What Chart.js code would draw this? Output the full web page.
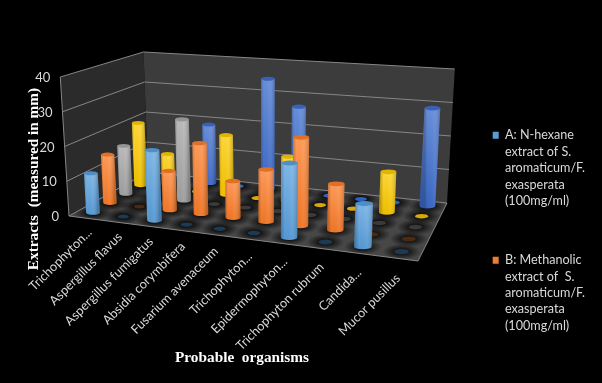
<!DOCTYPE html>
<html>
<head>
<meta charset="utf-8">
<script src="https://cdn.jsdelivr.net/npm/chart.js@4"></script>
<style>
  html, body { margin: 0; padding: 0; background: #000; }
  canvas { display: block; }
</style>
</head>
<body>
<canvas id="chart" width="602" height="383"></canvas>
<script>
var categories = ["Trichophyton...", "Aspergillus flavus", "Aspergillus fumigatus", "Absidia corymbifera", "Fusarium avenaceum", "Trichophyton...", "Epidermophyton...", "Trichophyton rubrum", "Candida...", "Mucor pusillus"];
var seriesNames = ["A", "B", "C", "D", "E"];
var seriesA = [11.5, 0, 20, 0, 0, 0, 20.2, 0, 11.5, 0];
var seriesB = [14.5, 0, 11.5, 20.5, 10.5, 14.8, 24.8, 12.8, 0, 0];
var seriesC = [14.8, 0, 24.5, 0, 0, 0, 0, 0, 0, 0];
var seriesD = [19.8, 10.8, 0, 18.3, 0, 13.5, 0, 0, 11.8, 0];
var seriesE = [0, 0, 18.7, 0, 34.5, 26.5, 0, 0, 0, 29];
var yMax = 40;
var yStep = 10;
var legendA = ["A: N-hexane", "extract of S.", "aromaticum/F.", "exasperata", "(100mg/ml)"];
var legendB = ["B: Methanolic", "extract of  S.", "aromaticum/F.", "exasperata", "(100mg/ml)"];

var colors = ["#5ba3e0", "#ff7f2a", "#a8a8a8", "#ffcc00", "#3f6fd0"];
var zeroColors = ["#1d3a55", "#4a2a12", "#3a3a3a", "#d6a80c", "#2c62c6"];
var legendColors = ["#5b9bd5", "#ed7d31"];

// box corners of the 3d plot, in canvas pixels
var floorQuad = [[69, 216], [418, 261], [447, 203], [148, 172]];
var topQuad = [[60, 77], [427, 106], [456, 69], [143, 52]];
// verticals spread out from this x as they go up
var vanishX = 265;
var lean = 0.00032;

function homography(q) {
  var dx1 = q[1][0] - q[2][0], dx2 = q[3][0] - q[2][0], sx = q[0][0] - q[1][0] + q[2][0] - q[3][0];
  var dy1 = q[1][1] - q[2][1], dy2 = q[3][1] - q[2][1], sy = q[0][1] - q[1][1] + q[2][1] - q[3][1];
  var det = dx1 * dy2 - dx2 * dy1;
  var g = (sx * dy2 - dx2 * sy) / det, h = (dx1 * sy - sx * dy1) / det;
  var a = q[1][0] - q[0][0] + g * q[1][0], b = q[3][0] - q[0][0] + h * q[3][0];
  var d = q[1][1] - q[0][1] + g * q[1][1], e = q[3][1] - q[0][1] + h * q[3][1];
  return function (u, v) {
    var w = g * u + h * v + 1;
    return [(a * u + b * v + q[0][0]) / w, (d * u + e * v + q[0][1]) / w];
  };
}
var floorH = homography(floorQuad);
var topH = homography(topQuad);

// u across the categories, v into the depth, w up the value axis, all 0..1
function project(u, v, w) {
  var p = floorH(u, v), t = topH(u, v);
  var y = p[1] + (t[1] - p[1]) * w;
  return [p[0] + (p[0] - vanishX) * lean * (p[1] - y), y];
}
function uOf(chart, i) { var s = chart.scales.x; return (s.getPixelForValue(i) - s.left) / s.width; }
function vOf(chart, j) { var s = chart.scales.depth; return (s.getPixelForValue(j) - s.left) / s.width; }
function wOf(chart, val) { var s = chart.scales.y; return (s.bottom - s.getPixelForValue(val)) / s.height; }

class CylinderElement extends Chart.BarElement {
  draw(ctx) {
    var o = this.options, x = this.x, y = this.y, bx = this.baseX, by = this.base, w = this.width;
    var rx = w / 2, ry = w * 0.15;
    ctx.save();
    if (this.flat) {
      ctx.fillStyle = this.zeroColor;
      ctx.beginPath();
      ctx.ellipse(bx, by, rx * 0.8, ry * 0.95, 0, 0, Math.PI * 2);
      ctx.fill();
      ctx.restore();
      return;
    }
    ctx.beginPath();
    ctx.moveTo(x - rx, y);
    ctx.lineTo(bx - rx, by);
    ctx.ellipse(bx, by, rx, ry, 0, Math.PI, 0, true);
    ctx.lineTo(x + rx, y);
    ctx.closePath();
    var vg = ctx.createLinearGradient(0, y, 0, by);
    vg.addColorStop(0, shade(o.backgroundColor, 0.22));
    vg.addColorStop(1, shade(o.backgroundColor, -0.06));
    ctx.fillStyle = vg;
    ctx.fill();
    var hg = ctx.createLinearGradient(x - rx, 0, x + rx, 0);
    hg.addColorStop(0, "rgba(0,0,0,0.2)");
    hg.addColorStop(0.2, "rgba(0,0,0,0)");
    hg.addColorStop(0.6, "rgba(255,255,255,0.05)");
    hg.addColorStop(1, "rgba(0,0,0,0.2)");
    ctx.fillStyle = hg;
    ctx.fill();
    ctx.fillStyle = shade(o.backgroundColor, -0.12);
    ctx.beginPath();
    ctx.ellipse(x, y, rx, ry, 0, 0, Math.PI * 2);
    ctx.fill();
    ctx.restore();
  }
}
CylinderElement.id = "cylinder";
CylinderElement.defaults = Chart.BarElement.defaults;

function shade(hex, amt) {
  var n = parseInt(hex.slice(1), 16), out = [n >> 16, (n >> 8) & 255, n & 255];
  out = out.map(function (c) {
    return Math.round(amt > 0 ? c + (255 - c) * amt : c * (1 + amt));
  });
  return "rgb(" + out.join(",") + ")";
}

class CylinderController extends Chart.BarController {
  updateElements(bars, start, count, mode) {
    var chart = this.chart, j = this.index;
    var ds = this.getDataset();
    var v = vOf(chart, j);
    for (var i = start; i < start + count; i++) {
      var val = this.getParsed(i).y;
      var u = uOf(chart, i);
      var base = project(u, v, 0), top = project(u, v, wOf(chart, val));
      var edgeL = project(u - 0.023, v, 0), edgeR = project(u + 0.023, v, 0);
      this.updateElement(bars[i], i, {
        horizontal: false,
        x: top[0],
        y: top[1],
        base: base[1],
        baseX: base[0],
        width: edgeR[0] - edgeL[0],
        height: base[1] - top[1],
        flat: val === 0,
        zeroColor: ds.zeroColor,
        options: this.resolveDataElementOptions(i, mode)
      }, mode);
    }
  }
}
CylinderController.id = "cylinder";
CylinderController.defaults = Object.assign({}, Chart.BarController.defaults, { dataElementType: "cylinder" });

Chart.register(CylinderElement, CylinderController);

function quad(ctx, pts, fill) {
  ctx.beginPath();
  pts.forEach(function (p, i) { i ? ctx.lineTo(p[0], p[1]) : ctx.moveTo(p[0], p[1]); });
  ctx.closePath();
  if (fill) { ctx.fillStyle = fill; ctx.fill(); }
}

var box3d = {
  id: "box3d",
  beforeDatasetsDraw: function (chart) {
    var ctx = chart.ctx, y = chart.scales.y;
    ctx.save();
    quad(ctx, [project(0, 0, 0), project(0, 0, 1), project(0, 1, 1), project(0, 1, 0)], "#2b2b2b");
    quad(ctx, [project(0, 1, 0), project(0, 1, 1), project(1, 1, 1), project(1, 1, 0)], "#3c3c3c");
    quad(ctx, [project(0, 0, 0), project(1, 0, 0), project(1, 1, 0), project(0, 1, 0)], "#474747");

    // dark halo round every cell of the floor
    ctx.save();
    quad(ctx, [project(0, 0, 0), project(1, 0, 0), project(1, 1, 0), project(0, 1, 0)]);
    ctx.clip();
    categories.forEach(function (c, i) {
      seriesNames.forEach(function (s, j) {
        var p = project(uOf(chart, i), vOf(chart, j), 0);
        ctx.save();
        ctx.translate(p[0], p[1]);
        ctx.scale(1, 0.42);
        var g = ctx.createRadialGradient(0, 0, 4, 0, 0, 19);
        g.addColorStop(0, "rgba(0,0,0,0.85)");
        g.addColorStop(1, "rgba(0,0,0,0)");
        ctx.fillStyle = g;
        ctx.fillRect(-22, -22, 44, 44);
        ctx.restore();
      });
    });
    ctx.restore();

    // grid lines
    ctx.strokeStyle = "#868686";
    ctx.lineWidth = 1;
    y.ticks.forEach(function (t) {
      var w = wOf(chart, t.value);
      var a = project(0, 0, w), b = project(0, 1, w), c = project(1, 1, w);
      ctx.beginPath();
      ctx.moveTo(a[0], a[1]);
      ctx.lineTo(b[0], b[1]);
      ctx.lineTo(c[0], c[1]);
      ctx.stroke();
    });
    var f0 = project(0, 0, 0), f1 = project(0, 0, 1), f2 = project(1, 0, 0), f3 = project(1, 1, 0);
    ctx.beginPath();
    ctx.moveTo(f1[0], f1[1]);
    ctx.lineTo(f0[0], f0[1]);
    ctx.lineTo(f2[0], f2[1]);
    ctx.lineTo(f3[0], f3[1]);
    ctx.stroke();

    // value ticks
    ctx.fillStyle = "#d9d9d9";
    ctx.font = "13px Lato";
    ctx.textAlign = "right";
    ctx.textBaseline = "middle";
    y.ticks.forEach(function (t) {
      var p = project(0, 0, wOf(chart, t.value));
      ctx.fillText(t.label, p[0] - 10, p[1] + 1);
    });

    // category ticks, turned 45 degrees
    ctx.font = "12.7px Lato";
    categories.forEach(function (c, i) {
      var u = uOf(chart, i), p = project(u, 0, 0);
      ctx.save();
      ctx.translate(p[0] + 6 - 6 * u, p[1] + 12 + 6 * u);
      ctx.rotate(-Math.PI / 4);
      ctx.fillText(c, 0, 0);
      ctx.restore();
    });

    // axis titles
    ctx.fillStyle = "#ffffff";
    ctx.font = "bold 15.3px 'Liberation Serif'";
    ctx.textAlign = "center";
    ctx.fillText("Probable  organisms", 242, 358);
    ctx.save();
    ctx.translate(34, 179);
    ctx.rotate(-Math.PI / 2);
    ctx.fillText("Extracts  (measured in mm)", 0, 0);
    ctx.restore();
    ctx.restore();
  }
};

var seriesValues = [seriesA, seriesB, seriesC, seriesD, seriesE];
var legendLines = [legendA, legendB];

new Chart(document.getElementById("chart"), {
  type: "cylinder",
  data: {
    labels: categories,
    datasets: seriesValues.map(function (vals, j) {
      return {
        label: seriesNames[j],
        data: vals,
        backgroundColor: colors[j],
        zeroColor: zeroColors[j],
        xAxisID: "x",
        yAxisID: "y",
        clip: false
      };
    })
  },
  options: {
    responsive: false,
    animation: false,
    layout: { padding: { top: 86, right: 7 } },
    scales: {
      x: { type: "category", offset: true, display: false, ticks: { autoSkip: false } },
      depth: { type: "category", axis: "x", labels: seriesNames, offset: true, display: false, ticks: { autoSkip: false } },
      y: { type: "linear", min: 0, max: yMax, display: false, ticks: { stepSize: yStep } }
    },
    plugins: {
      tooltip: { enabled: false },
      legend: {
        position: "right",
        align: "start",
        labels: {
          color: "#d9d9d9",
          font: { family: "Lato", size: 12.6, lineHeight: 1.3 },
          boxWidth: 6,
          boxHeight: 7,
          padding: 43,
          generateLabels: function () {
            return legendLines.map(function (lines, j) {
              return { text: lines, fillStyle: legendColors[j], strokeStyle: legendColors[j], lineWidth: 0, fontColor: "#d9d9d9", datasetIndex: j };
            });
          }
        }
      }
    }
  },
  plugins: [box3d]
});
</script>
</body>
</html>
